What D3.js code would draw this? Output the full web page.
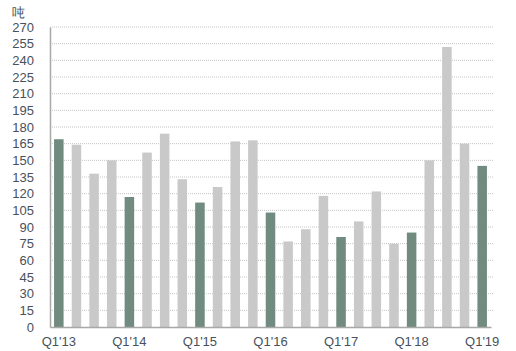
<!DOCTYPE html>
<html>
  <head>
    <script src="https://cdn.jsdelivr.net/npm/d3@7/dist/d3.min.js"></script>
    <style>
      body { margin: 0; background: #fff; }
      text { font-family: "Liberation Sans", Arial, sans-serif; }
    </style>
  </head>
  <body>
    <svg width="516" height="351"></svg>
    <script>
      // quarterly values, Q1'13 .. Q1'19
      const quarters = [];
      for (let y = 13; y <= 19; y++) {
        for (let q = 1; q <= 4; q++) {
          if (y === 19 && q > 1) break;
          quarters.push("Q" + q + "'" + y);
        }
      }
      const values = [169, 164, 138, 150, 117, 157, 174, 133, 112, 126, 167, 168,
                      103, 77, 88, 118, 81, 95, 122, 75, 85, 150, 252, 165, 145];
      const yTicks = d3.range(0, 271, 15);
      const xLabels = ["Q1'13", "Q1'14", "Q1'15", "Q1'16", "Q1'17", "Q1'18", "Q1'19"];

      const svg = d3.select("svg");
      const margin = { top: 27, right: 25, bottom: 24, left: 50 };
      const width = 516 - margin.left - margin.right;
      const height = 351 - margin.top - margin.bottom;

      const g = svg.append("g")
        .attr("transform", `translate(${margin.left},${margin.top})`);

      const x = d3.scaleBand().domain(quarters).range([0, width]).paddingInner(0.46).paddingOuter(0.23);
      const y = d3.scaleLinear().domain([0, 270]).range([height, 0]);

      // grid
      g.append("g").selectAll("line")
        .data(yTicks.filter(d => d > 0))
        .enter().append("line")
          .attr("x1", 0).attr("x2", width + 2)
          .attr("y1", d => y(d)).attr("y2", d => y(d))
          .attr("stroke", "#c4c4c4")
          .attr("stroke-dasharray", "1,1");

      g.selectAll("rect")
        .data(values)
        .enter().append("rect")
          .attr("x", (d, i) => x(quarters[i]))
          .attr("y", d => y(d))
          .attr("width", x.bandwidth())
          .attr("height", d => height - y(d))
          .attr("fill", (d, i) => quarters[i].startsWith("Q1") ? "#718b80" : "#c9c9c9");

      // axes
      const yAxis = g.append("g").call(d3.axisLeft(y).tickValues(yTicks).tickSize(0).tickPadding(16));
      yAxis.select(".domain").attr("stroke", "#a8a8a8").attr("stroke-width", 1.5);
      yAxis.selectAll("text").attr("fill", "#47515c").attr("font-size", 13);

      const xAxis = g.append("g")
        .attr("transform", `translate(0,${height})`)
        .call(d3.axisBottom(x).tickValues(xLabels).tickSize(0).tickPadding(10));
      xAxis.select(".domain").attr("stroke", "#a8a8a8").attr("stroke-width", 1.5);
      xAxis.selectAll("text").attr("fill", "#47515c").attr("font-size", 13);

      svg.append("text")
        .attr("x", 12).attr("y", 17)
        .attr("fill", "#47515c")
        .attr("font-size", 13)
        .text("吨");
    </script>
  </body>
</html>
